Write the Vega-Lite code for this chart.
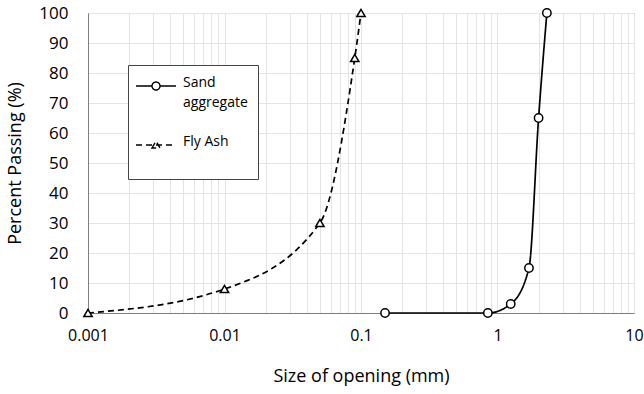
{
  "$schema": "https://vega.github.io/schema/vega-lite/v6.json",
  "width": 546,
  "height": 300,
  "autosize": {"type": "none"},
  "padding": {"left": 88, "top": 13, "right": 10, "bottom": 81},
  "config": {
    "view": {"stroke": "#7f7f7f", "strokeWidth": 1},
    "font": "Open Sans",
    "axis": {"gridColor": "#e4e4e4", "gridWidth": 1, "domainColor": "#7f7f7f", "ticks": false, "labelColor": "#000", "titleColor": "#000", "labelFont": "Open Sans", "titleFont": "Open Sans", "titleFontWeight": "normal"}
  },
  "data": {
    "values": [
      {"series": "Sand aggregate", "size": 0.15, "pass": 0},
      {"series": "Sand aggregate", "size": 0.85, "pass": 0},
      {"series": "Sand aggregate", "size": 1.25, "pass": 3},
      {"series": "Sand aggregate", "size": 1.7, "pass": 15},
      {"series": "Sand aggregate", "size": 2.0, "pass": 65},
      {"series": "Sand aggregate", "size": 2.3, "pass": 100},
      {"series": "Fly Ash", "size": 0.001, "pass": 0},
      {"series": "Fly Ash", "size": 0.01, "pass": 8},
      {"series": "Fly Ash", "size": 0.05, "pass": 30},
      {"series": "Fly Ash", "size": 0.09, "pass": 85},
      {"series": "Fly Ash", "size": 0.1, "pass": 100}
    ]
  },
  "encoding": {
    "x": {
      "field": "size", "type": "quantitative",
      "scale": {"type": "log", "domain": [0.001, 10], "nice": false},
      "axis": {
        "title": "Size of opening (mm)",
        "titleFontSize": 18, "titlePadding": 24,
        "labelFontSize": 16, "labelPadding": 14,
        "values": [0.001,0.002,0.003,0.004,0.005,0.006,0.007,0.008,0.009,0.01,0.02,0.03,0.04,0.05,0.06,0.07,0.08,0.09,0.1,0.2,0.3,0.4,0.5,0.6,0.7,0.8,0.9,1,2,3,4,5,6,7,8,9,10],
        "format": "~g",
        "labelExpr": "abs(log(datum.value)/LN10 - round(log(datum.value)/LN10)) < 0.000001 ? datum.label : ''",
        "labelOverlap": false,
        "labelFlush": false
      }
    },
    "y": {
      "field": "pass", "type": "quantitative",
      "scale": {"domain": [0, 100], "nice": false},
      "axis": {
        "title": "Percent Passing (%)",
        "titleFontSize": 18, "titlePadding": 14,
        "labelFontSize": 17, "labelPadding": 20,
        "values": [0,10,20,30,40,50,60,70,80,90,100]
      }
    }
  },
  "layer": [
    {
      "mark": {"type": "line", "interpolate": "monotone", "color": "black", "strokeWidth": 1.7},
      "encoding": {
        "strokeDash": {
          "field": "series", "type": "nominal",
          "scale": {"domain": ["Sand aggregate", "Fly Ash"], "range": [[1, 0], [6, 4]]},
          "legend": {
            "title": null,
            "orient": "none", "legendX": 40, "legendY": 52,
            "strokeColor": "#444", "fillColor": "white",
            "padding": 10,
            "symbolSize": 400,
            "symbolOffset": 7,
            "symbolStrokeColor": "black",
            "symbolFillColor": "white",
            "symbolStrokeWidth": 1.4,
            "labelFontSize": 14, "labelFont": "Open Sans", "labelColor": "#000",
            "labelBaseline": "top", "labelOffset": 16,
            "rowPadding": 24,
            "labelExpr": "datum.value == 'Sand aggregate' ? ['Sand', 'aggregate'] : ['Fly Ash', ' ']",
            "encode": {
              "labels": {"update": {"dy": {"value": -10}, "lineHeight": {"value": 20}}},
              "symbols": {
                "update": {
                  "shape": {"signal": "datum.value == 'Sand aggregate' ? 'M-2,0L-0.4,0M0.4,0L2,0M-0.4,0A0.4,0.4 0 1,1 0.4,0A0.4,0.4 0 1,1 -0.4,0' : 'M-2,0L2,0M-0.4,0.3L0,-0.4L0.4,0.3Z'"}
                }
              }
            }
          }
        }
      }
    },
    {
      "transform": [{"filter": "datum.series == 'Sand aggregate'"}],
      "mark": {"type": "point", "shape": "circle", "filled": false, "color": "black", "fill": "white", "fillOpacity": 1, "strokeWidth": 1.5, "size": 70, "opacity": 1}
    },
    {
      "transform": [{"filter": "datum.series == 'Fly Ash'"}],
      "mark": {"type": "point", "shape": "triangle-up", "filled": false, "color": "black", "fill": "white", "fillOpacity": 1, "strokeWidth": 1.5, "size": 70, "opacity": 1}
    }
  ]
}
